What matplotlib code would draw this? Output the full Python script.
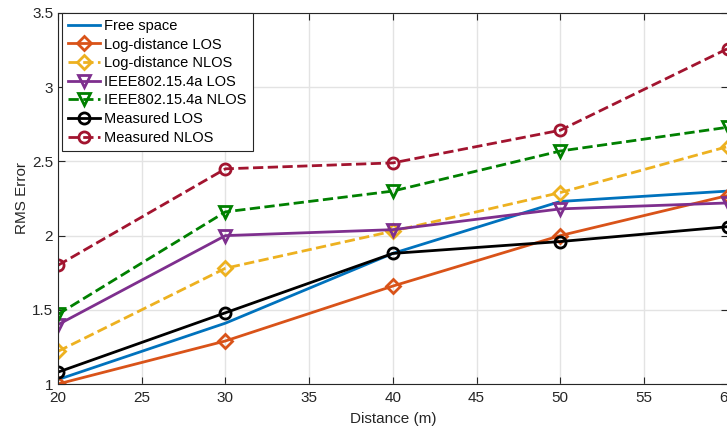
import matplotlib.pyplot as plt

plt.rcParams['font.family'] = ['Liberation Sans', 'DejaVu Sans']

distance = [20, 30, 40, 50, 60]
free_space = [1.03, 1.41, 1.88, 2.23, 2.30]
logd_los = [1.00, 1.29, 1.66, 2.00, 2.27]
logd_nlos = [1.22, 1.78, 2.03, 2.29, 2.60]
ieee_los = [1.40, 2.00, 2.04, 2.18, 2.22]
ieee_nlos = [1.47, 2.16, 2.30, 2.57, 2.73]
meas_los = [1.08, 1.48, 1.88, 1.96, 2.06]
meas_nlos = [1.80, 2.45, 2.49, 2.71, 3.26]

fig = plt.figure(figsize=(7.27, 4.32), dpi=100)
ax = fig.add_axes([58 / 727, 48 / 432, 1 - 58 / 727 + 0.001, 371 / 432])

mk = dict(markersize=8, markeredgewidth=2, markerfacecolor='none', linewidth=2)
ax.plot(distance, free_space, color='#0072BD', linewidth=2, label='Free space')
ax.plot(distance, logd_los, '-D', color='#D95319', label='Log-distance LOS', **{**mk, 'markersize': 7})
ax.plot(distance, logd_nlos, '--D', color='#EDB120', label='Log-distance NLOS', **{**mk, 'markersize': 7})
ax.plot(distance, ieee_los, '-v', color='#7E2F8E', label='IEEE802.15.4a LOS', **mk)
ax.plot(distance, ieee_nlos, '--v', color='#008000', label='IEEE802.15.4a NLOS', **mk)
ax.plot(distance, meas_los, '-o', color='black', label='Measured LOS', **mk)
ax.plot(distance, meas_nlos, '--o', color='#A2142F', label='Measured NLOS', **mk)

ax.set_xlim(20, 60)
ax.set_ylim(1, 3.5)
ax.set_xticks([20, 25, 30, 35, 40, 45, 50, 55, 60])
ax.set_yticks([1, 1.5, 2, 2.5, 3, 3.5])
ax.set_yticklabels(['1', '1.5', '2', '2.5', '3', '3.5'])
ax.tick_params(direction='in', top=True, right=True, labelsize=11, colors='#262626', length=5)
ax.tick_params(axis='x', pad=5)
ax.grid(True, color='#e3e3e3', linewidth=1)
ax.set_axisbelow(True)
for s in ax.spines.values():
    s.set_color('#262626')

ax.set_xlabel('Distance (m)', fontsize=11, color='#262626', labelpad=5)
ax.set_ylabel('RMS Error', fontsize=11, color='#262626', labelpad=2)

leg = ax.legend(loc='upper left', bbox_to_anchor=(0.006, 1.0), fontsize=10.5, frameon=True,
                fancybox=False, edgecolor='#262626', framealpha=1, handlelength=2.2,
                borderaxespad=0, labelspacing=0.32, handletextpad=0.3, borderpad=0.4)
leg.get_frame().set_linewidth(0.8)

fig.savefig('out.png', dpi=100)
